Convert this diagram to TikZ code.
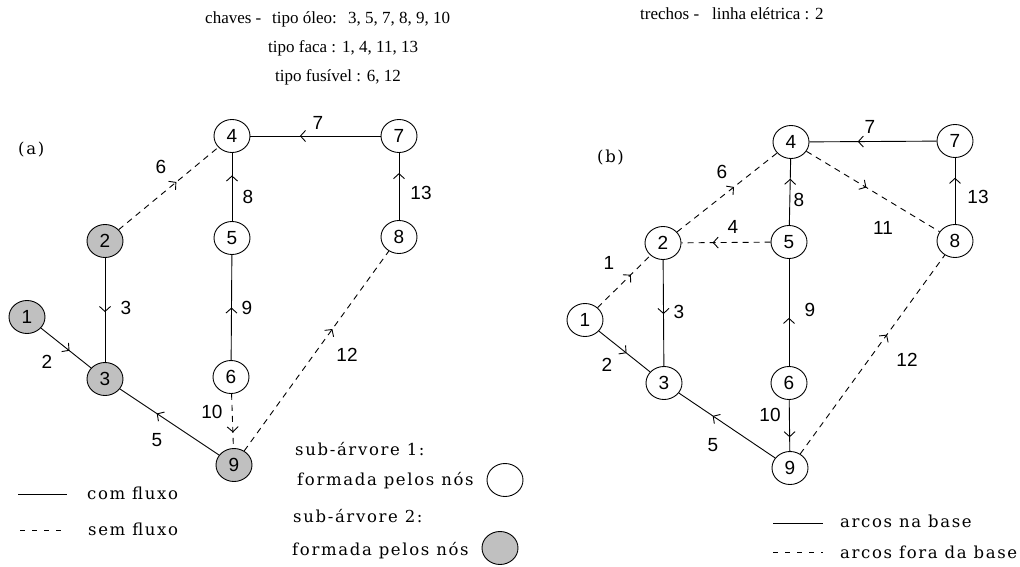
\documentclass[tikz,border=0pt]{standalone}
\usepackage{fontspec}
\setmainfont{Liberation Serif}
\newfontfamily\legfont[LetterSpace=10]{DejaVu Serif}
\newfontfamily\numfont{Liberation Sans}
\usetikzlibrary{shapes.geometric,arrows.meta,decorations.markings}
\definecolor{nodegray}{HTML}{C0C0C0}
\tikzset{
  nd/.style={ellipse,draw,line width=0.9pt,minimum width=36pt,minimum height=33pt,inner sep=0pt,fill=white,font=\numfont\fontsize{19}{19}\selectfont},
  gnd/.style={nd,fill=nodegray},
  lb/.style={inner sep=0pt,font=\numfont\fontsize{19}{19}\selectfont},
  edg/.style={line width=0.9pt},
  dsh/.style={edg,dash pattern=on 6pt off 5pt},
  ldsh/.style={edg,dash pattern=on 5pt off 7pt},
  mk/.style={postaction={decorate},decoration={markings,mark=at position #1 with {\arrow{Straight Barb[length=5pt,width=11pt]}}}},
  toptxt/.style={inner sep=0pt,anchor=base west,font=\fontsize{17}{20}\selectfont},
  leg/.style={inner sep=0pt,anchor=base west,font=\legfont\fontsize{16.5}{19}\selectfont},
}
\begin{document}
\begin{tikzpicture}[x=1pt,y=-1pt]
\useasboundingbox[fill=white] (0,0) rectangle (1020,567);

% header text
\node[toptxt] (chv) at (205,24) {chaves -};
\node[toptxt] (oleo) at (272,24) {tipo óleo:};
\node[toptxt] (oleon) at (348,24) {3, 5, 7, 8, 9, 10};
\node[toptxt] (faca) at (268,53) {tipo faca :};
\node[toptxt] (facan) at (342,53) {1, 4, 11, 13};
\node[toptxt] (fus) at (275,82) {tipo fusível : 6, 12};
\node[toptxt] (tre) at (640,20) {trechos -};
\node[toptxt] (lin) at (712,20) {linha elétrica : 2};

% ---------------- (a) ----------------
\node[leg] (tita) at (18,154) {(a)};
\node[gnd] (a1) at (27,317) {1};
\node[gnd] (a2) at (105,241) {2};
\node[gnd] (a3) at (105,379) {3};
\node[nd]  (a4) at (232,136) {4};
\node[nd]  (a5) at (232,238) {5};
\node[nd]  (a6) at (231,377) {6};
\node[nd]  (a7) at (399,136) {7};
\node[nd]  (a8) at (399,237) {8};
\node[gnd] (a9) at (234,465) {9};

\draw[edg,mk=0.62] (a7) -- (a4);
\draw[edg,mk=0.67] (a5) -- (a4);
\draw[edg,mk=0.70] (a8) -- (a7);
\draw[dsh,mk=0.58] (a2) -- (a4);
\draw[edg,mk=0.52] (a2) -- (a3);
\draw[edg,mk=0.57] (a1) -- (a3);
\draw[edg,mk=0.50] (a6) -- (a5);
\draw[edg,mk=0.63] (a9) -- (a3);
\draw[dsh,mk=0.71] (a6) -- (a9);
\draw[dsh,mk=0.61] (a9) -- (a8);

\node[lb] (la6) at (161,167) {6};
\node[lb] (la7) at (318,123) {7};
\node[lb] (la8) at (248,197) {8};
\node[lb] (la13) at (421,193) {13};
\node[lb] (la3) at (126,308) {3};
\node[lb] (la9) at (247,308) {9};
\node[lb] (la2) at (47,362) {2};
\node[lb] (la12) at (347,355) {12};
\node[lb] (la10) at (212,412) {10};
\node[lb] (la5) at (157,440) {5};

% legend (a)
\coordinate (s1) at (18,494);
\coordinate (s2) at (67,494);
\coordinate (d1) at (20,530);
\coordinate (d2) at (67,530);
\draw[edg] (s1) -- (s2);
\draw[ldsh] (d1) -- (d2);
\node[leg] (comf) at (87,499) {com fluxo};
\node[leg] (semf) at (88,535) {sem fluxo};

\node[leg] (sub1) at (295,455) {sub-árvore 1:};
\node[leg] (form1) at (297,485) {formada pelos nós};
\node[nd] (c1) at (505,480) {};
\node[leg] (sub2) at (293,522) {sub-árvore 2:};
\node[leg] (form2) at (292,555) {formada pelos nós};
\node[gnd] (c2) at (500,548) {};

% ---------------- (b) ----------------
\node[leg] (titb) at (597,162) {(b)};
\node[nd] (b1) at (585,320) {1};
\node[nd] (b2) at (663,243) {2};
\node[nd] (b3) at (664,383) {3};
\node[nd] (b4) at (791,142) {4};
\node[nd] (b5) at (789,242) {5};
\node[nd] (b6) at (789,383) {6};
\node[nd] (b7) at (955,141) {7};
\node[nd] (b8) at (955,241) {8};
\node[nd] (b9) at (790,468) {9};

\draw[edg,mk=0.62] (b7) -- (b4);
\draw[edg,mk=0.70] (b5) -- (b4);
\draw[edg,mk=0.70] (b8) -- (b7);
\draw[dsh,mk=0.57] (b2) -- (b4);
\draw[dsh,mk=0.65] (b5) -- (b2);
\draw[dsh,mk=0.63] (b1) -- (b2);
\draw[edg,mk=0.51] (b2) -- (b3);
\draw[edg,mk=0.54] (b1) -- (b3);
\draw[edg,mk=0.45] (b6) -- (b5);
\draw[dsh,mk=0.45] (b4) -- (b8);
\draw[edg,mk=0.65] (b9) -- (b3);
\draw[edg,mk=0.73] (b6) -- (b9);
\draw[dsh,mk=0.60] (b9) -- (b8);

\node[lb] (lb1) at (609,263) {1};
\node[lb] (lb2) at (607,365) {2};
\node[lb] (lb3) at (679,312) {3};
\node[lb] (lb4) at (733,227) {4};
\node[lb] (lb5) at (713,445) {5};
\node[lb] (lb6) at (722,172) {6};
\node[lb] (lb7) at (870,127) {7};
\node[lb] (lb8) at (799,200) {8};
\node[lb] (lb9) at (810,310) {9};
\node[lb] (lb10) at (770,415) {10};
\node[lb] (lb11) at (883,228) {11};
\node[lb] (lb12) at (907,360) {12};
\node[lb] (lb13) at (978,197) {13};

% legend (b)
\coordinate (bs1) at (773,523);
\coordinate (bs2) at (823,523);
\coordinate (bd1) at (773,552);
\coordinate (bd2) at (823,552);
\draw[edg] (bs1) -- (bs2);
\draw[ldsh] (bd1) -- (bd2);
\node[leg] (nabase) at (840,527) {arcos na base};
\node[leg] (forabase) at (840,558) {arcos fora da base};
\end{tikzpicture}
\end{document}
